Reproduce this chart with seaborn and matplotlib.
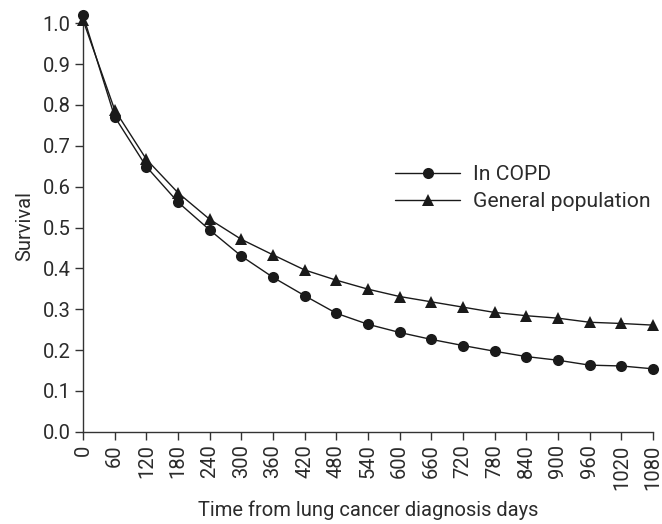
import matplotlib
matplotlib.use("Agg")
import matplotlib.pyplot as plt
import seaborn as sns
import pandas as pd

days = [0, 60, 120, 180, 240, 300, 360, 420, 480, 540, 600, 660, 720, 780, 840, 900, 960, 1020, 1080]
copd = [1.02, 0.771, 0.649, 0.562, 0.494, 0.430, 0.378, 0.333, 0.290, 0.263, 0.243, 0.226,
        0.211, 0.197, 0.184, 0.175, 0.163, 0.161, 0.154]
general = [1.008, 0.788, 0.667, 0.585, 0.520, 0.471, 0.433, 0.396, 0.371, 0.349, 0.331, 0.318,
           0.305, 0.292, 0.284, 0.278, 0.268, 0.265, 0.261]
series_names = ["In COPD", "General population"]
y_ticks = [0.0, 0.1, 0.2, 0.3, 0.4, 0.5, 0.6, 0.7, 0.8, 0.9, 1.0]

df = pd.DataFrame({
    "Time": days * 2,
    "Survival": copd + general,
    "Group": [series_names[0]] * len(days) + [series_names[1]] * len(days),
})

sns.set_style("white")
plt.rcParams["font.family"] = ["Roboto", "DejaVu Sans"]
text_color = "#2b2b2b"
fs = 14.5

fig = plt.figure(figsize=(6.62, 5.24), dpi=100)
ax = fig.add_axes([0.1254, 0.1761, 0.861, 0.7857])

sns.lineplot(data=df, x="Time", y="Survival", hue="Group", style="Group",
             palette=["#1a1a1a", "#1a1a1a"], markers={"In COPD": "o", "General population": "^"},
             dashes=False, markersize=8, linewidth=1.0, markeredgewidth=0,
             ax=ax, clip_on=False, zorder=3)

ax.set_xlim(0, 1080)
ax.set_ylim(0, 1.008)
ax.set_xticks(days)
ax.set_xticklabels([str(d) for d in days], rotation=90)
ax.set_yticks(y_ticks)
ax.set_yticklabels([f"{v:.1f}" for v in y_ticks])

for s in ["top", "right"]:
    ax.spines[s].set_visible(False)
for s in ["left", "bottom"]:
    ax.spines[s].set_color("#333333")
    ax.spines[s].set_linewidth(1.0)

ax.tick_params(axis="both", direction="out", length=6, width=1.0, color="#333333",
               labelsize=fs, labelcolor=text_color, pad=3, left=True, bottom=True)

ax.set_xlabel("Time from lung cancer diagnosis days", fontsize=fs, color=text_color, labelpad=8)
ax.set_ylabel("Survival", fontsize=fs, color=text_color, labelpad=6)

handles, labels = ax.get_legend_handles_labels()
leg = ax.legend(handles=handles, labels=labels, loc="upper left", bbox_to_anchor=(0.547, 0.647),
                frameon=False, handlelength=3.1, fontsize=15.2, labelspacing=0.38,
                handletextpad=0.6, borderpad=0, borderaxespad=0)
for t in leg.get_texts():
    t.set_color(text_color)

fig.savefig("out.png", dpi=100)
